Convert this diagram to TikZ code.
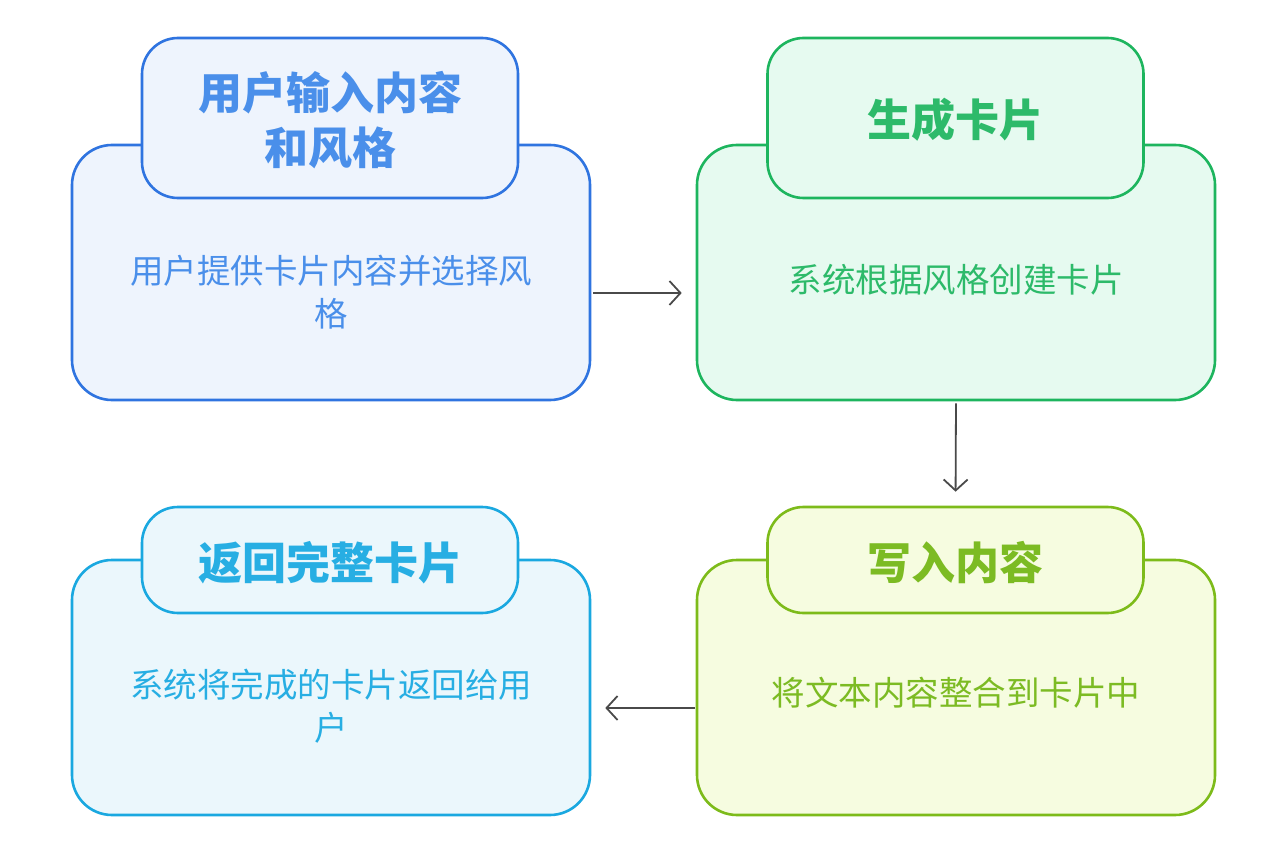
\documentclass[tikz,border=0pt]{standalone}
\usepackage{fontspec}
\newfontfamily\cjk{Noto Sans CJK SC}
\usetikzlibrary{arrows.meta}
\definecolor{bS}{HTML}{2F74E0}\definecolor{bF}{HTML}{EEF4FD}\definecolor{bT}{HTML}{4A8FEA}
\definecolor{gS}{HTML}{1DB55E}\definecolor{gF}{HTML}{E6FAF0}\definecolor{gT}{HTML}{2DBA6A}
\definecolor{cS}{HTML}{1AA8E0}\definecolor{cF}{HTML}{EBF7FC}\definecolor{cT}{HTML}{27AEE3}
\definecolor{lS}{HTML}{7DBB1A}\definecolor{lF}{HTML}{F6FCE0}\definecolor{lT}{HTML}{7CBB23}
\definecolor{arr}{HTML}{4A4A4A}
\tikzset{
  outer/.style={draw=#1S, fill=#1F, line width=2.6pt, rounded corners=40pt, minimum width=518pt, minimum height=255pt, inner sep=0pt},
  titlebox/.style={draw=#1S, fill=#1F, line width=2.6pt, rounded corners=36pt, minimum width=376pt, inner sep=0pt},
  ttl/.style={text=#1T, font=\cjk\bfseries\fontsize{44pt}{55pt}\selectfont, align=center},
  body/.style={text=#1T, font=\cjk\fontsize{33.5pt}{43pt}\selectfont, align=center},
  flow/.style={draw=arr, line width=1.8pt, -{Straight Barb[length=11pt, width=24pt, line width=1.8pt]}}
}
\begin{document}
\begin{tikzpicture}[x=1pt,y=-1pt]
\useasboundingbox[fill=white] (0,0) rectangle (1280,861);
% outer boxes
\node[outer=b] (A) at (331,272.5) {};
\node[outer=g] (B) at (956,272.5) {};
\node[outer=l] (C) at (956,687.5) {};
\node[outer=c] (D) at (331,687.5) {};
% title boxes
\node[titlebox=b, minimum height=160pt] (At) at (330,118) {};
\node[titlebox=g, minimum height=160pt] (Bt) at (955.5,118) {};
\node[titlebox=l, minimum height=106pt] (Ct) at (955.5,560) {};
\node[titlebox=c, minimum height=106pt] (Dt) at (330,560) {};
% titles
\node[ttl=b] (Atx) at (330,120) {用户输入内容\\和风格};
\node[ttl=g] (Btx) at (955.5,120) {生成卡片};
\node[ttl=l] (Ctx) at (955.5,563) {写入内容};
\node[ttl=c] (Dtx) at (330,563) {返回完整卡片};
% bodies
\node[body=b] (Ab) at (331,292) {用户提供卡片内容并选择风\\格};
\node[body=g] (Bb) at (956,280) {系统根据风格创建卡片};
\node[body=l] (Cb) at (956,693) {将文本内容整合到卡片中};
\node[body=c] (Db) at (331,706) {系统将完成的卡片返回给用\\户};
% connectors
\draw[flow, shorten <=2pt, shorten >=14pt] ([yshift=-20.5pt]A.east) -- ([yshift=-20.5pt]B.west);
\draw[flow, shorten <=2pt, shorten >=14pt] (B.south) -- (Ct.north);
\draw[flow, shorten <=1pt, shorten >=14pt] ([yshift=-20.5pt]C.west) -- ([yshift=-20.5pt]D.east);
\end{tikzpicture}
\end{document}
